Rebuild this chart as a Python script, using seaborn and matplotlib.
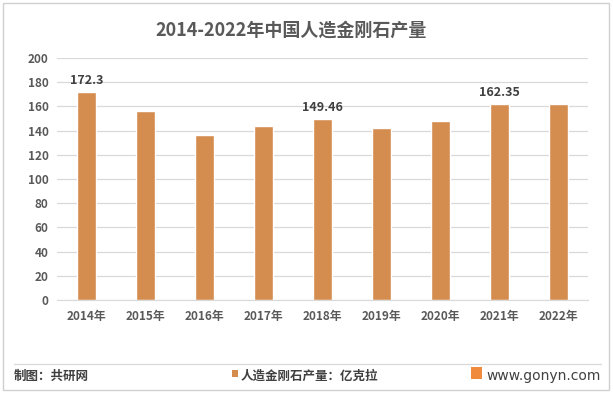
import pandas as pd
import seaborn as sns
from matplotlib import pyplot as plt
from matplotlib.patches import Rectangle

# data
years = ['2014年', '2015年', '2016年', '2017年', '2018年', '2019年', '2020年', '2021年', '2022年']
output = [172.3, 156.3, 136.5, 143.8, 149.46, 142.1, 148.0, 162.35, 162.4]
labelled = {'2014年': '172.3', '2018年': '149.46', '2021年': '162.35'}
yticks = [0, 20, 40, 60, 80, 100, 120, 140, 160, 180, 200]

df = pd.DataFrame({'Year': years, 'Output': output})

sns.set_style('white')
plt.rcParams['font.family'] = ['Noto Sans CJK SC', 'DejaVu Sans']

bar_color = '#D48C4F'
text_color = '#595959'

fig = plt.figure(figsize=(6.13, 3.93), dpi=100)
ax = fig.add_axes([0.093, 0.2366, 0.866, 0.6157])

sns.barplot(data=df, x='Year', y='Output', color=bar_color, width=0.32,
            saturation=1, ax=ax)

ax.set_ylim(0, 200)
ax.set_yticks(yticks)
ax.set_yticklabels([str(t) for t in yticks], fontsize=8.5, color=text_color, fontweight='bold')
ax.set_xticks(range(len(years)))
ax.set_xticklabels(years, fontsize=8.5, color=text_color, fontweight='bold')
ax.tick_params(axis='both', length=0)
ax.tick_params(axis='x', pad=7)
ax.tick_params(axis='y', pad=6)
ax.set_xlabel('')
ax.set_ylabel('')
ax.yaxis.grid(True, color='#D9D9D9', linewidth=0.9)
ax.set_axisbelow(True)
for s in ['top', 'left', 'right']:
    ax.spines[s].set_visible(False)
ax.spines['bottom'].set_color('#D9D9D9')

# value labels
for i, y in enumerate(years):
    if y in labelled:
        ax.text(i, output[i] + 4, labelled[y], ha='center', va='bottom',
                fontsize=9, color='#404040', fontweight='bold')

# title
fig.text(0.475, 0.923, '2014-2022年中国人造金刚石产量', ha='center', va='center',
         fontsize=13, fontweight='bold', color='#595959')

# outer border
fig.patches.append(Rectangle((0.005, 0.008), 0.988, 0.985, transform=fig.transFigure,
                             fill=False, edgecolor='#D0D0D0', linewidth=1))
# footer separator
fig.add_artist(plt.Line2D([0.023, 0.981], [0.074, 0.074], transform=fig.transFigure,
                          color='#D9D9D9', linewidth=0.9))

# footer texts
fig.text(0.023, 0.025, '制图：共研网', ha='left', va='bottom', fontsize=9,
         color='#404040', fontweight='bold')
fig.patches.append(Rectangle((0.378, 0.04), 0.011, 0.018, transform=fig.transFigure,
                             facecolor=bar_color, edgecolor='none'))
fig.text(0.392, 0.025, '人造金刚石产量：亿克拉', ha='left', va='bottom', fontsize=9,
         color='#404040', fontweight='bold')
fig.patches.append(Rectangle((0.768, 0.035), 0.018, 0.03, transform=fig.transFigure,
                             facecolor='#F08A3C', edgecolor='none'))
fig.text(0.980, 0.025, 'www.gonyn.com', ha='right', va='bottom', fontsize=10,
         color='#404040', family=['DejaVu Sans'])

plt.savefig('out.png', dpi=100)
